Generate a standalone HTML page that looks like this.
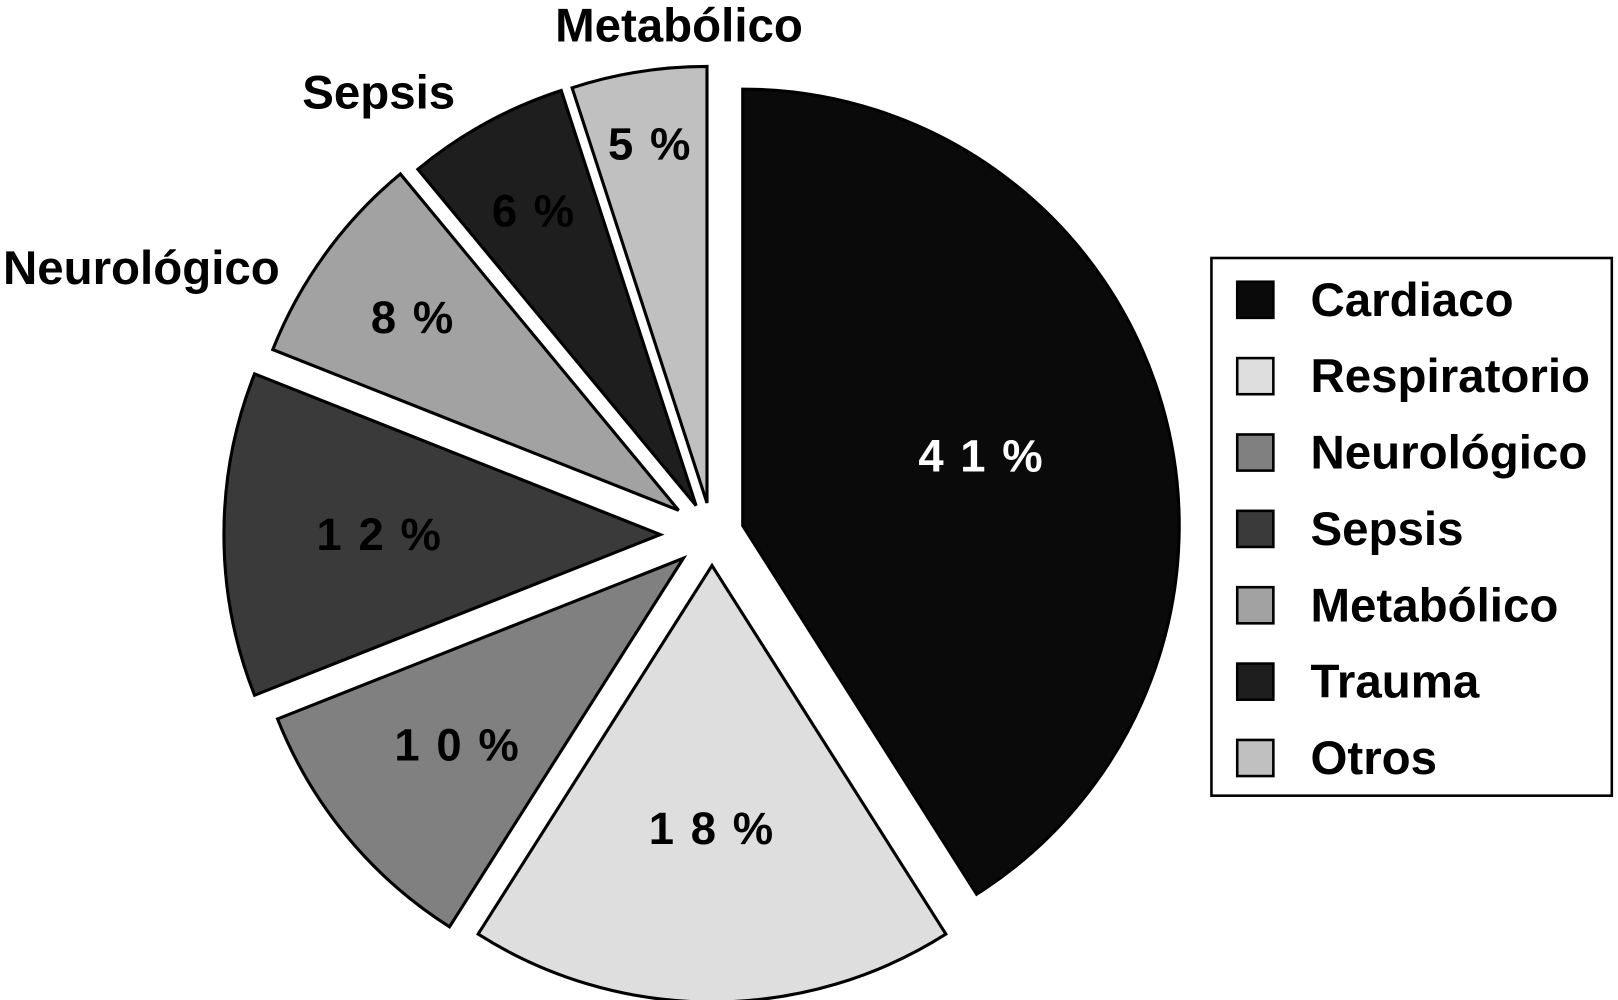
<!DOCTYPE html>
<html><head><meta charset="utf-8"><style>
html,body{margin:0;padding:0;background:#fff;}
svg{display:block;}
text{font-family:"Liberation Sans",Arial,sans-serif;font-weight:bold;}
</style></head><body>
<svg id="chart" width="1618" height="1000" viewBox="0 0 1568 969" preserveAspectRatio="none" xmlns="http://www.w3.org/2000/svg">
<g id="slices"></g>
<g id="outer"></g>
<g id="legend"></g>
</svg>
<script>
const categories = ["Cardiaco","Respiratorio","Neurológico","Sepsis","Metabólico","Trauma","Otros"];
const values = [41,18,10,12,8,6,5];
const valueLabels = ["4 1 %","1 8 %","1 0 %","1 2 %","8 %","6 %","5 %"];
const outsideLabels = ["","","","","Neurológico","Sepsis","Metabólico"];
const colors = ["#0a0a0a","#dedede","#808080","#3a3a3a","#a2a2a2","#1e1e1e","#c0c0c0"];
const explode = [31,30,36,50,40,32,31];
const labelR = [241,255,284,272,318,326,352];

const NS="http://www.w3.org/2000/svg";
const cx=690, cy=518, R=423;
const total=values.reduce((a,b)=>a+b,0);
function pt(ax,ay,ang,r){const a=ang*Math.PI/180;return [ax+r*Math.sin(a), ay-r*Math.cos(a)];}
const sg=document.getElementById('slices');
let acc=0;
values.forEach((v,i)=>{
  const a0=acc/total*360, a1=(acc+v)/total*360, mid=(a0+a1)/2; acc+=v;
  const [ax,ay]=pt(cx,cy,mid,explode[i]);
  const p0=pt(ax,ay,a0,R), p1=pt(ax,ay,a1,R);
  const large=(a1-a0)>180?1:0;
  const path=document.createElementNS(NS,'path');
  path.setAttribute('d',`M${ax},${ay} L${p0[0]},${p0[1]} A${R},${R} 0 ${large} 1 ${p1[0]},${p1[1]} Z`);
  path.setAttribute('fill',colors[i]);
  path.setAttribute('stroke','#000');
  path.setAttribute('stroke-width','3');
  
  
  sg.appendChild(path);
  const [lx,ly]=pt(ax,ay,mid,labelR[i]);
  const t=document.createElementNS(NS,'text');
  t.setAttribute('x',lx); t.setAttribute('y',ly+15);
  t.setAttribute('text-anchor','middle');
  t.setAttribute('font-size','44');
  t.setAttribute('letter-spacing','2');
  t.setAttribute('fill', i===0?'#fff':'#000');
  t.textContent=valueLabels[i];
  
  
  sg.appendChild(t);
});
const og=document.getElementById('outer');
const outPos=[null,null,null,null,[137,275],[367,105],[658,40]];
outsideLabels.forEach((s,i)=>{
  if(!s) return;
  const t=document.createElementNS(NS,'text');
  t.setAttribute('x',outPos[i][0]); t.setAttribute('y',outPos[i][1]);
  t.setAttribute('text-anchor','middle');
  t.setAttribute('font-size','46');
  t.textContent=s;
  
  
  og.appendChild(t);
});
const lg=document.getElementById('legend');
const box=document.createElementNS(NS,'rect');
box.setAttribute('x',1174);box.setAttribute('y',250);box.setAttribute('width',388);box.setAttribute('height',521);
box.setAttribute('fill','#fff');box.setAttribute('stroke','#000');box.setAttribute('stroke-width','2.5');


lg.appendChild(box);
categories.forEach((c,i)=>{
  const y=290+i*74;
  const r=document.createElementNS(NS,'rect');
  r.setAttribute('x',1199);r.setAttribute('y',y-17);r.setAttribute('width',35);r.setAttribute('height',35);
  r.setAttribute('fill',colors[i]);r.setAttribute('stroke','#000');r.setAttribute('stroke-width','2.5');
  
  
  lg.appendChild(r);
  const t=document.createElementNS(NS,'text');
  t.setAttribute('x',1270);t.setAttribute('y',y+16);t.setAttribute('font-size','46');
  t.textContent=c;
  
  
  lg.appendChild(t);
});
</script>
</body></html>
